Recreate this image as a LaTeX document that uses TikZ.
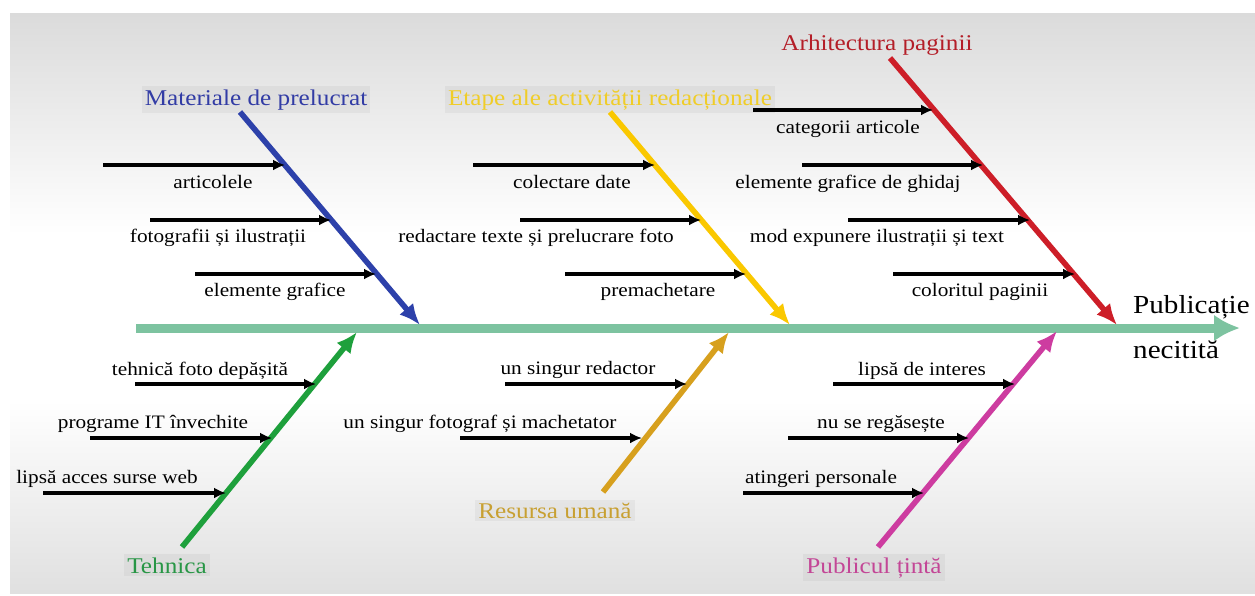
\documentclass[tikz,border=0pt]{standalone}
\usepackage{fontspec}
\setmainfont[FakeStretch=1.12]{Liberation Serif}
\usetikzlibrary{arrows.meta}
\definecolor{bgtop}{RGB}{219,219,219}
\definecolor{bgbot}{RGB}{224,224,224}
\definecolor{spinec}{RGB}{125,195,160}
\definecolor{blueL}{RGB}{45,65,170}
\definecolor{blueT}{RGB}{50,60,165}
\definecolor{yellowL}{RGB}{250,200,0}
\definecolor{yellowT}{RGB}{240,205,40}
\definecolor{redL}{RGB}{205,30,40}
\definecolor{redT}{RGB}{180,30,40}
\definecolor{greenL}{RGB}{30,160,60}
\definecolor{greenT}{RGB}{40,150,70}
\definecolor{goldL}{RGB}{215,160,30}
\definecolor{goldT}{RGB}{200,160,50}
\definecolor{magL}{RGB}{205,60,160}
\definecolor{magT}{RGB}{195,70,150}
\begin{document}
\begin{tikzpicture}[x=1pt,y=-1pt,
  cause/.style={font=\fontsize{19}{21}\selectfont, inner sep=0pt, anchor=base},
  title/.style={font=\fontsize{22.5}{25}\selectfont, anchor=base, fill=black, fill opacity=0.04, text opacity=1, inner sep=3pt},
  effect/.style={font=\fontsize{26}{28}\selectfont, anchor=base west, inner sep=0pt},
  sub/.style={-{Latex[length=12pt,width=11pt]}, line width=3.3pt, black},
  bone/.style={line width=5.6pt, -{Latex[length=21pt,width=18pt]}},
  spine/.style={line width=9pt, spinec, -{Latex[length=26pt,width=27pt]}},
]
\useasboundingbox (0,0) rectangle (1255,595);
% background panel
\fill[white] (0,0) rectangle (1255,595);
\shade[top color=bgtop, bottom color=white] (10,13) rectangle (1255,235);
\fill[white] (10,235) rectangle (1255,400);
\shade[top color=white, bottom color=bgbot] (10,400) rectangle (1255,593);

% spine
\coordinate (s0) at (136,328);
\coordinate (s1) at (1240,328);
\draw[spine] (s0) -- (s1);
\node[effect] (eff1) at (1133,313) {Publicație};
\node[effect] (eff2) at (1133,358) {necitită};

% ---- Materiale de prelucrat (blue)
\node[title, text=blueT] (tM) at (256,105) {Materiale de prelucrat};
\coordinate (bM0) at (240,112); \coordinate (bM1) at (420,325);
\draw[bone, blueL] (bM0) -- (bM1);
\coordinate (m1a) at (103,165); \coordinate (m1b) at (285,165);
\coordinate (m2a) at (150,220); \coordinate (m2b) at (331,220);
\coordinate (m3a) at (195,274); \coordinate (m3b) at (376,274);
\draw[sub] (m1a) -- (m1b);
\draw[sub] (m2a) -- (m2b);
\draw[sub] (m3a) -- (m3b);
\node[cause] (lm1) at (213,188) {articolele};
\node[cause] (lm2) at (218,242) {fotografii și ilustrații};
\node[cause] (lm3) at (275,296) {elemente grafice};

% ---- Etape ale activitatii redactionale (yellow)
\node[title, text=yellowT] (tE) at (610,105) {Etape ale activității redacționale};
\coordinate (bE0) at (610,112); \coordinate (bE1) at (790,325);
\draw[bone, yellowL] (bE0) -- (bE1);
\coordinate (e1a) at (473,165); \coordinate (e1b) at (655,165);
\coordinate (e2a) at (520,220); \coordinate (e2b) at (701,220);
\coordinate (e3a) at (565,274); \coordinate (e3b) at (746,274);
\draw[sub] (e1a) -- (e1b);
\draw[sub] (e2a) -- (e2b);
\draw[sub] (e3a) -- (e3b);
\node[cause] (le1) at (572,188) {colectare date};
\node[cause] (le2) at (536,242) {redactare texte și prelucrare foto};
\node[cause] (le3) at (658,296) {premachetare};

% ---- Arhitectura paginii (red)
\node[title, text=redT, fill opacity=0] (tA) at (877,50) {Arhitectura paginii};
\coordinate (bA0) at (890,58); \coordinate (bA1) at (1117,325);
\draw[bone, redL] (bA0) -- (bA1);
\coordinate (a1a) at (753,110); \coordinate (a1b) at (933,110);
\coordinate (a2a) at (802,165); \coordinate (a2b) at (983,165);
\coordinate (a3a) at (848,220); \coordinate (a3b) at (1030,220);
\coordinate (a4a) at (893,274); \coordinate (a4b) at (1075,274);
\draw[sub] (a1a) -- (a1b);
\draw[sub] (a2a) -- (a2b);
\draw[sub] (a3a) -- (a3b);
\draw[sub] (a4a) -- (a4b);
\node[cause] (la1) at (848,133) {categorii articole};
\node[cause] (la2) at (848,188) {elemente grafice de ghidaj};
\node[cause] (la3) at (877,242) {mod expunere ilustrații și text};
\node[cause] (la4) at (980,296) {coloritul paginii};

% ---- Tehnica (green)
\node[title, text=greenT] (tT) at (167,573) {Tehnica};
\coordinate (bT0) at (182,547); \coordinate (bT1) at (357,332);
\draw[bone, greenL] (bT0) -- (bT1);
\coordinate (t1a) at (135,384); \coordinate (t1b) at (316,384);
\coordinate (t2a) at (90,438); \coordinate (t2b) at (272,438);
\coordinate (t3a) at (43,493); \coordinate (t3b) at (226,493);
\draw[sub] (t1a) -- (t1b);
\draw[sub] (t2a) -- (t2b);
\draw[sub] (t3a) -- (t3b);
\node[cause] (lt1) at (200,375) {tehnică foto depășită};
\node[cause] (lt2) at (153,428) {programe IT învechite};
\node[cause] (lt3) at (107,483) {lipsă acces surse web};

% ---- Resursa umana (gold)
\node[title, text=goldT] (tR) at (555,518) {Resursa umană};
\coordinate (bR0) at (603,492); \coordinate (bR1) at (729,332);
\draw[bone, goldL] (bR0) -- (bR1);
\coordinate (r1a) at (505,384); \coordinate (r1b) at (687,384);
\coordinate (r2a) at (460,438); \coordinate (r2b) at (642,438);
\draw[sub] (r1a) -- (r1b);
\draw[sub] (r2a) -- (r2b);
\node[cause] (lr1) at (578,374) {un singur redactor};
\node[cause] (lr2) at (480,428) {un singur fotograf și machetator};

% ---- Publicul tinta (magenta)
\node[title, text=magT] (tP) at (874,573) {Publicul țintă};
\coordinate (bP0) at (878,547); \coordinate (bP1) at (1057,331);
\draw[bone, magL] (bP0) -- (bP1);
\coordinate (p1a) at (833,384); \coordinate (p1b) at (1015,384);
\coordinate (p2a) at (788,438); \coordinate (p2b) at (969,438);
\coordinate (p3a) at (743,493); \coordinate (p3b) at (924,493);
\draw[sub] (p1a) -- (p1b);
\draw[sub] (p2a) -- (p2b);
\draw[sub] (p3a) -- (p3b);
\node[cause] (lp1) at (922,375) {lipsă de interes};
\node[cause] (lp2) at (881,428) {nu se regăsește};
\node[cause] (lp3) at (821,483) {atingeri personale};
\end{tikzpicture}
\end{document}
